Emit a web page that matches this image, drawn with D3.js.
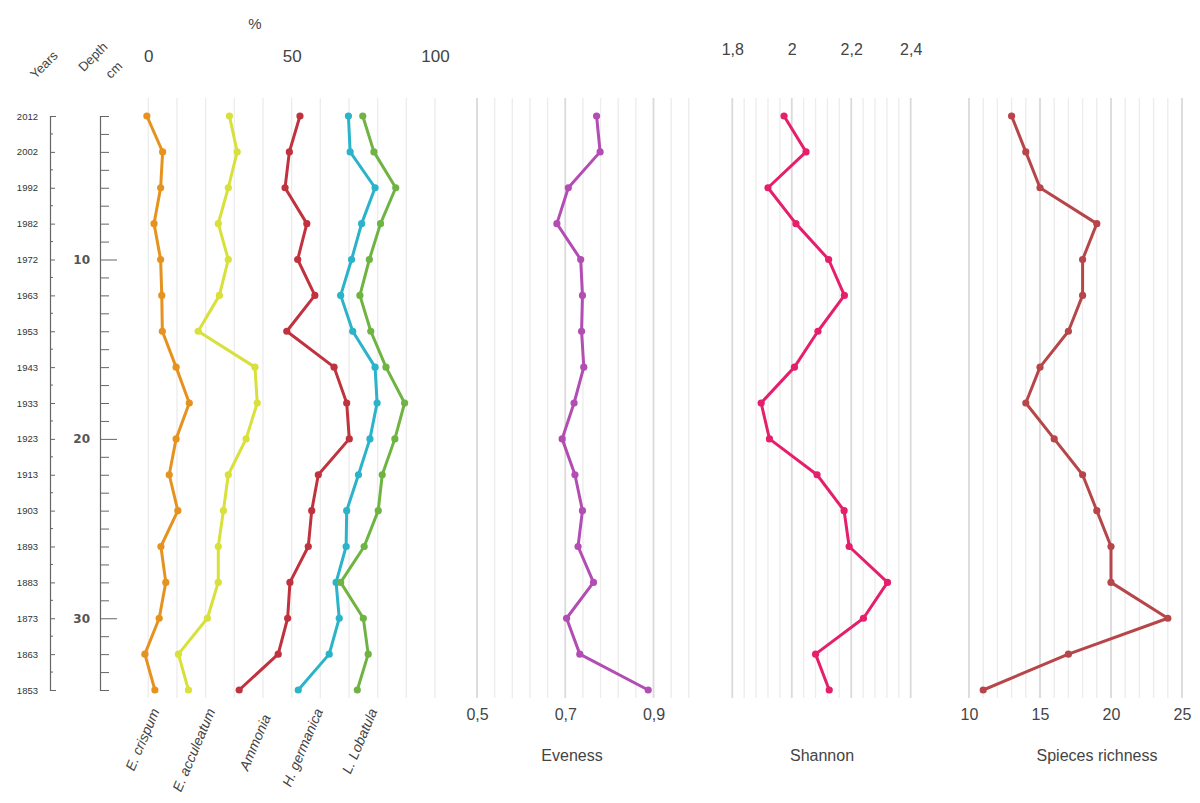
<!DOCTYPE html>
<html>
<head>
<meta charset="utf-8">
<script src="https://cdn.jsdelivr.net/npm/d3@7"></script>
<style>
  html, body { margin: 0; padding: 0; background: #fff; }
  svg { display: block; font-family: "Liberation Sans", Arial, sans-serif; }
  .axis path, .axis line { stroke: #666; }
</style>
</head>
<body>
<svg id="chart" width="1200" height="803"></svg>
<script>
// Core sample: years and depth (cm) of each slice, top to bottom
const years  = [2012, 2002, 1992, 1982, 1972, 1963, 1953, 1943, 1933, 1923, 1913, 1903, 1893, 1883, 1873, 1863, 1853];
const depths = [2, 4, 6, 8, 10, 12, 14, 16, 18, 20, 22, 24, 26, 28, 30, 32, 34];

// Foraminifera abundance curves (%)
const taxa = ["E. crispum", "E. acculeatum", "Ammonia", "H. germanica", "L. Lobatula"];
const eCrispum     = [-0.5, 5.0, 4.3, 2.0, 4.3, 4.7, 4.9, 9.7, 14.3, 9.7, 7.3, 10.3, 4.4, 6.1, 3.8, -1.2, 2.3];
const eAcculeatum  = [28.3, 31.0, 27.9, 24.4, 27.9, 24.8, 17.4, 37.2, 38.0, 34.1, 27.9, 26.2, 24.4, 24.4, 20.6, 10.5, 14.0];
const ammonia      = [52.9, 49.2, 47.7, 55.3, 52.1, 58.1, 48.3, 64.8, 69.2, 70.1, 59.3, 57.0, 55.8, 49.4, 48.6, 45.3, 31.7];
const hGermanica   = [69.8, 70.4, 79.1, 74.4, 70.9, 67.1, 71.3, 79.1, 79.8, 77.3, 73.3, 69.2, 69.0, 65.5, 66.6, 63.1, 52.3];
const lLobatula    = [74.8, 78.7, 86.3, 81.0, 77.1, 73.8, 77.6, 82.9, 89.4, 86.0, 81.6, 80.2, 75.3, 67.1, 75.0, 76.7, 72.9];
const taxaColors   = ["#e6921f", "#d8e03a", "#c0323e", "#2ab3c9", "#6fb443"];

// Diversity indices
const eveness  = [0.771, 0.779, 0.707, 0.681, 0.735, 0.739, 0.737, 0.742, 0.720, 0.693, 0.722, 0.739, 0.729, 0.764, 0.703, 0.733, 0.888];
const shannon  = [1.974, 2.048, 1.920, 2.014, 2.124, 2.177, 2.088, 2.009, 1.897, 1.925, 2.085, 2.176, 2.193, 2.322, 2.241, 2.080, 2.126];
const richness = [13, 14, 15, 19, 18, 18, 17, 15, 14, 16, 18, 19, 20, 20, 24, 17, 11];

// Tick labels
const pctTicks      = [0, 50, 100];
const evenTicks     = [0.5, 0.7, 0.9];
const shannonTicks  = [1.8, 2.0, 2.2, 2.4];
const richnessTicks = [10, 15, 20, 25];

const svg = d3.select("#chart");
const commaFmt = d => String(d).replace(".", ",");

// Shared vertical scale: depth in cm
const y = d3.scaleLinear().domain([2, 34]).range([116, 690]);
const gridTop = 98, gridBottom = 698;

// Horizontal scales of the four panels
const xPct  = d3.scaleLinear().domain([0, 100]).range([148.3, 435]);
const xEven = d3.scaleLinear().domain([0.5, 0.9]).range([477, 653.5]);
const xSh   = d3.scaleLinear().domain([1.8, 2.4]).range([732.3, 910.7]);
const xRich = d3.scaleLinear().domain([10, 25]).range([969, 1182]);

// ---- Vertical gridlines ----
function grid(scale, values, isMajor) {
  const g = svg.append("g");
  g.selectAll("line").data(values).join("line")
    .attr("x1", d => scale(d)).attr("x2", d => scale(d))
    .attr("y1", gridTop).attr("y2", gridBottom)
    .attr("stroke", d => isMajor(d) ? "#dadada" : "#ededed")
    .attr("stroke-width", d => isMajor(d) ? 1.8 : 1.4);
}
const near = (a, b) => Math.abs(a - b) < 1e-6;
grid(xPct, d3.range(0, 101, 10), () => false);
grid(xEven, d3.range(0, 13).map(i => 0.5 + i * 0.04), d => evenTicks.some(t => near(t, d)));
grid(xSh, d3.range(0, 16).map(i => 1.8 + i * 0.04), d => shannonTicks.some(t => near(t, d)));
grid(xRich, d3.range(10, 26), d => richnessTicks.includes(d));

// ---- Years axis ----
const yearAxis = d3.axisLeft(y)
  .tickValues(depths)
  .tickFormat((d, i) => years[i])
  .tickSizeInner(-5).tickSizeOuter(-6).tickPadding(12);
const gYear = svg.append("g").attr("class", "axis").attr("transform", "translate(50,0)").call(yearAxis);
gYear.selectAll("text").attr("font-size", 9.5).attr("fill", "#333");
gYear.select(".domain").attr("stroke-width", 1.2);
// minor ticks between sampled years
svg.append("g").selectAll("line").data(d3.range(3, 34, 2)).join("line")
  .attr("x1", 50).attr("x2", 53).attr("y1", d => y(d)).attr("y2", d => y(d))
  .attr("stroke", "#666");

// ---- Depth axis ----
const depthAxis = d3.axisLeft(y)
  .tickValues(d3.range(2, 35))
  .tickFormat(d => d % 10 === 0 ? d : "")
  .tickSizeInner(-9).tickSizeOuter(-8).tickPadding(10);
const gDepth = svg.append("g").attr("class", "axis").attr("transform", "translate(100,0)").call(depthAxis);
gDepth.selectAll("text").attr("font-size", 12).attr("fill", "#555")
  .attr("font-family", "DejaVu Sans, sans-serif").attr("font-weight", "bold");
gDepth.selectAll(".tick").filter(d => d % 10 === 0).select("line").attr("x2", 17);
gDepth.select(".domain").attr("stroke-width", 1.2);

// ---- Header labels ----
svg.append("text").attr("transform", "translate(47,68) rotate(-45)")
  .attr("text-anchor", "middle").attr("font-size", 13).attr("fill", "#444").text("Years");
svg.append("text").attr("transform", "translate(96,60) rotate(-45)")
  .attr("text-anchor", "middle").attr("font-size", 13).attr("fill", "#444").text("Depth");
svg.append("text").attr("transform", "translate(117,73) rotate(-45)")
  .attr("text-anchor", "middle").attr("font-size", 13).attr("fill", "#444").text("cm");
svg.append("text").attr("x", 255).attr("y", 29)
  .attr("text-anchor", "middle").attr("font-size", 15).attr("fill", "#444").text("%");

// ---- Tick label axes (no lines) ----
function labelAxis(axis, ty, size) {
  const g = svg.append("g").attr("transform", `translate(0,${ty})`).call(axis);
  g.select(".domain").remove();
  g.selectAll(".tick line").remove();
  g.selectAll("text").attr("font-size", size).attr("fill", "#444")
    .attr("font-family", "Liberation Sans, Arial, sans-serif");
  return g;
}
labelAxis(d3.axisTop(xPct).tickValues(pctTicks).tickSize(0).tickPadding(0), 62, 17);
labelAxis(d3.axisTop(xSh).tickValues(shannonTicks).tickFormat(commaFmt).tickSize(0).tickPadding(0), 55, 16);
labelAxis(d3.axisBottom(xEven).tickValues(evenTicks).tickFormat(commaFmt).tickSize(0).tickPadding(0), 709, 16);
labelAxis(d3.axisBottom(xRich).tickValues(richnessTicks).tickSize(0).tickPadding(0), 709, 16);

// ---- Panel titles ----
const titles = [["Eveness", 572], ["Shannon", 822], ["Spieces richness", 1097]];
svg.append("g").selectAll("text").data(titles).join("text")
  .attr("x", d => d[1]).attr("y", 761).attr("text-anchor", "middle")
  .attr("font-size", 16).attr("fill", "#444").text(d => d[0]);

// ---- Taxa names (rotated, below the percent panel) ----
const taxaLabelPos = [4, 23.5, 42.8, 61, 80];
svg.append("g").selectAll("text").data(taxa).join("text")
  .attr("transform", (d, i) => `translate(${xPct(taxaLabelPos[i])},${i === 2 ? 717 : 711}) rotate(-67)`)
  .attr("text-anchor", "end").attr("font-size", 14).attr("font-style", "italic")
  .attr("fill", "#444").text(d => d);

// ---- Curves ----
function curve(xScale, values, color) {
  const pts = values.map((v, i) => [xScale(v), y(depths[i])]);
  svg.append("path").datum(pts)
    .attr("d", d3.line())
    .attr("fill", "none").attr("stroke", color)
    .attr("stroke-width", 3).attr("stroke-linejoin", "round");
  svg.append("g").selectAll("circle").data(pts).join("circle")
    .attr("cx", d => d[0]).attr("cy", d => d[1]).attr("r", 3.6)
    .attr("fill", color);
}
[eCrispum, eAcculeatum, ammonia, hGermanica, lLobatula].forEach((s, i) => curve(xPct, s, taxaColors[i]));
curve(xEven, eveness, "#b24db3");
curve(xSh, shannon, "#e51f6b");
curve(xRich, richness, "#b7464a");
</script>
</body>
</html>
